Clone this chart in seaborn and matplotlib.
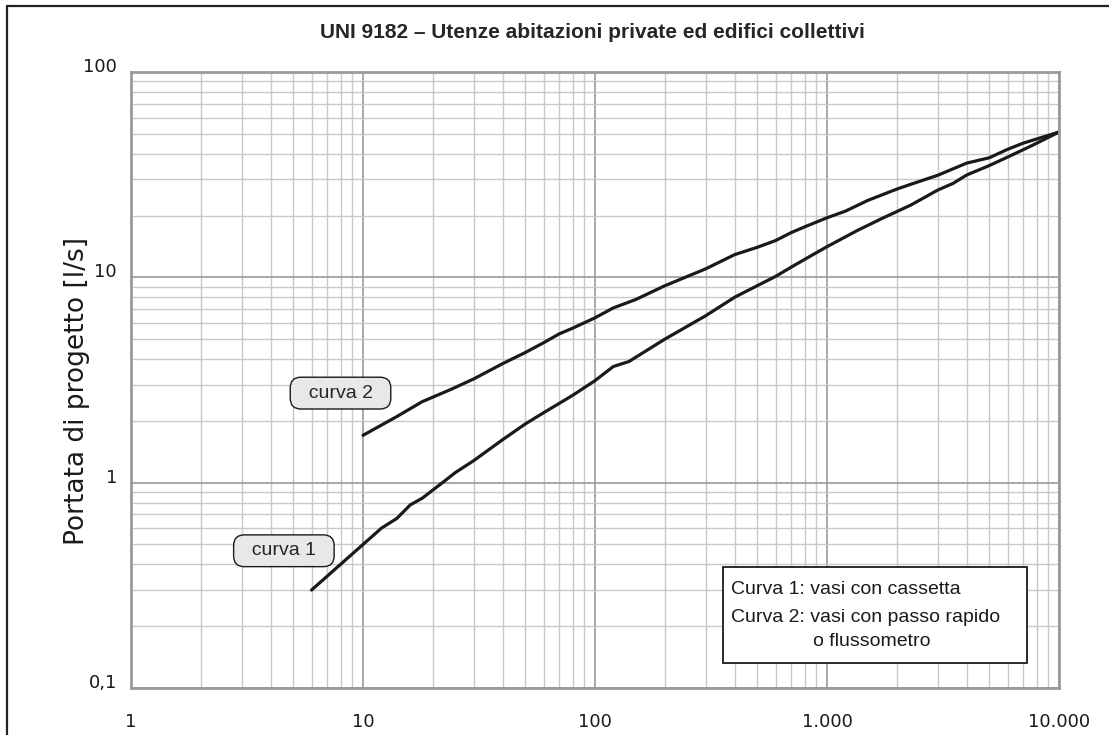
import numpy as np
import pandas as pd
import matplotlib
matplotlib.use('Agg')
import matplotlib.pyplot as plt
import matplotlib.transforms as mtransforms
from matplotlib.lines import Line2D
from matplotlib.patches import Rectangle
import seaborn as sns

sns.set_style('white')
plt.rcParams['font.family'] = ['DejaVu Sans']

# curve 1: vasi con cassetta
x_curva1 = [6, 8, 10, 12, 14, 16, 18, 22, 25, 30, 40, 50, 60, 70, 80, 100, 120, 140,
            200, 300, 400, 500, 600, 700, 870, 1000, 1350, 1700, 2300, 3000, 3500,
            4000, 5000, 6000, 7700, 10000]
y_curva1 = [0.30, 0.40, 0.50, 0.60, 0.67, 0.78, 0.84, 1.0, 1.12, 1.28, 1.62, 1.93,
            2.19, 2.43, 2.66, 3.14, 3.68, 3.89, 5.0, 6.5, 8.0, 9.1, 10.1, 11.2, 12.9,
            14.1, 16.9, 19.2, 22.5, 26.6, 28.7, 31.5, 35.0, 38.5, 44.0, 51]

# curve 2: vasi con passo rapido o flussometro
x_curva2 = [10, 14, 18, 24, 30, 40, 50, 60, 70, 80, 100, 120, 150, 200, 300, 400, 500,
            600, 700, 800, 1000, 1200, 1500, 2000, 2300, 3000, 4000, 5000, 6000, 7000,
            10000]
y_curva2 = [1.70, 2.10, 2.48, 2.85, 3.20, 3.80, 4.30, 4.80, 5.30, 5.65, 6.35, 7.10,
            7.80, 9.10, 11.0, 12.9, 14.0, 15.1, 16.5, 17.6, 19.5, 21.0, 23.7, 26.9,
            28.4, 31.4, 36.0, 38.2, 42.0, 45.0, 51]

x_ticks = [1, 10, 100, 1000, 10000]
x_tick_labels = ['1', '10', '100', '1.000', '10.000']
y_ticks = [0.1, 1, 10, 100]
y_tick_labels = ['0,1', '1', '10', '100']

title = 'UNI 9182 \u2013 Utenze abitazioni private ed edifici collettivi'
legend_lines = ['Curva 1: vasi con cassetta', 'Curva 2: vasi con passo rapido']

df1 = pd.DataFrame({'x': x_curva1, 'y': y_curva1})
df2 = pd.DataFrame({'x': x_curva2, 'y': y_curva2})

fig = plt.figure(figsize=(11.09, 7.35), dpi=100)
ax = fig.add_axes([131 / 1109, 1 - 688 / 735, (1059 - 131) / 1109, (688 - 72) / 735])

ax.set_xscale('log')
ax.set_yscale('log')
ax.set_xlim(1, 10000)
ax.set_ylim(0.1, 100)

# grid
ax.grid(True, which='minor', color='#c9c9c9', lw=1.0)
ax.grid(True, which='major', color='#9a9a9a', lw=1.2)
ax.set_axisbelow(True)
for s in ax.spines.values():
    s.set_color('#9a9a9a')
    s.set_linewidth(2)

sns.lineplot(data=df1, x='x', y='y', ax=ax, color='#1a1a1a', lw=2.3, sort=False)
sns.lineplot(data=df2, x='x', y='y', ax=ax, color='#1a1a1a', lw=2.3, sort=False)

ax.set_xticks(x_ticks)
ax.set_xticklabels(x_tick_labels)
ax.set_yticks(y_ticks)
ax.set_yticklabels(y_tick_labels)
ax.tick_params(axis='both', which='both', length=0, labelsize=13, colors='#1a1a1a')
ax.tick_params(axis='x', pad=18)
ax.tick_params(axis='y', pad=10)
off = mtransforms.ScaledTranslation(0, 7 / 100, fig.dpi_scale_trans)
for lab in ax.get_yticklabels():
    lab.set_transform(lab.get_transform() + off)

ax.set_xlabel('')
ax.set_ylabel('Portata di progetto [l/s]', fontsize=19, color='#1a1a1a')
ax.yaxis.set_label_coords(-0.044, 0.482)

# curve labels
box = dict(boxstyle='round,pad=0.38,rounding_size=0.55', fc='#e8e8e8', ec='#1a1a1a', lw=1)
ax.text(8.0, 2.73, '  curva 2  ', fontsize=14, ha='center', va='center', bbox=box,
        family=['Liberation Sans', 'DejaVu Sans'])
ax.text(4.56, 0.466, '  curva 1  ', fontsize=14, ha='center', va='center', bbox=box,
        family=['Liberation Sans', 'DejaVu Sans'])

# legend box
fig.patches.append(Rectangle((723 / 1109, 1 - 663 / 735), (1027 - 723) / 1109, (663 - 567) / 735,
                             transform=fig.transFigure, fc='white', ec='#1a1a1a', lw=1.3, zorder=5))
leg_font = dict(fontsize=14, va='center', zorder=6, color='#1a1a1a',
                family=['Liberation Sans', 'DejaVu Sans'])
fig.text(731 / 1109, 1 - 589 / 735, legend_lines[0], **leg_font)
fig.text(731 / 1109, 1 - 617 / 735, legend_lines[1], **leg_font)
fig.text(813 / 1109, 1 - 641 / 735, 'o flussometro', **leg_font)

# title and outer frame
fig.text(592 / 1109, 1 - 32 / 735, title, fontsize=15, fontweight='bold', ha='center',
         va='center', family=['Liberation Sans', 'DejaVu Sans'])
fig.add_artist(Line2D([7 / 1109, 7 / 1109], [0, 1 - 6 / 735], color='#222222', lw=1.6))
fig.add_artist(Line2D([7 / 1109, 1], [1 - 6 / 735, 1 - 6 / 735], color='#222222', lw=1.6))

fig.savefig('out.png', dpi=100)
